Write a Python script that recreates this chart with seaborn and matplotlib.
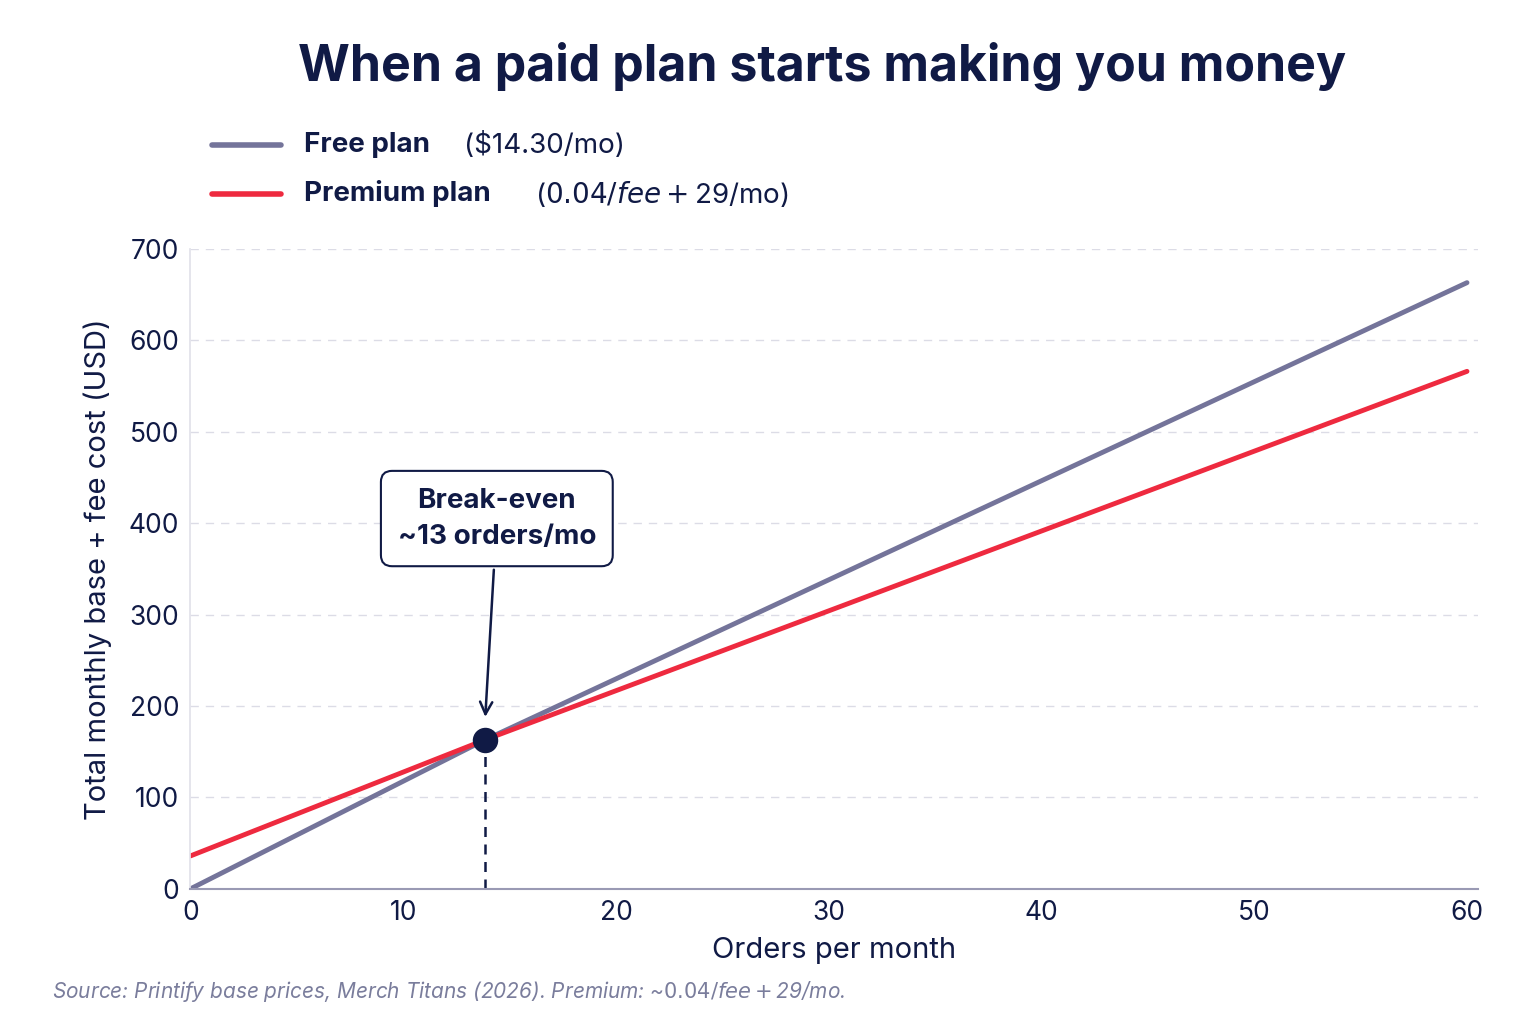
import matplotlib
matplotlib.use('Agg')
import matplotlib.pyplot as plt
from matplotlib.lines import Line2D
import seaborn as sns
import pandas as pd

orders = [0, 13.85, 60]
free_cost = [0, 163, 663]
premium_cost = [36, 163, 566]
breakeven_x = 13.85
breakeven_y = 163
yticks = [0, 100, 200, 300, 400, 500, 600, 700]
xticks = [0, 10, 20, 30, 40, 50, 60]

navy = '#101a45'
gray_line = '#74749a'
red_line = '#ee2a3f'

sns.set_theme(style='white')
plt.rcParams['font.family'] = ['Inter', 'DejaVu Sans']

df = pd.DataFrame({'orders': orders * 2,
                   'cost': free_cost + premium_cost,
                   'plan': ['Free'] * 3 + ['Premium'] * 3})

fig = plt.figure(figsize=(15.36, 10.24), dpi=100)
ax = fig.add_axes([0.124, 0.132, 0.838, 0.625])
sns.lineplot(data=df, x='orders', y='cost', hue='plan',
             palette={'Free': gray_line, 'Premium': red_line},
             linewidth=3.5, legend=False, ax=ax)

ax.set_xlim(0, 60.5)
ax.set_ylim(0, 700)
ax.set_xticks(xticks)
ax.set_yticks(yticks)
ax.tick_params(labelsize=19, colors=navy, length=0, pad=8)
ax.yaxis.grid(True, linestyle=(0, (6, 5)), color='#dcdce6', linewidth=1)
for s in ['top', 'right']:
    ax.spines[s].set_visible(False)
ax.spines['left'].set_color('#e2e2ea')
ax.spines['bottom'].set_color('#9a9ab4')
ax.spines['bottom'].set_linewidth(1.5)
ax.set_xlabel('Orders per month', fontsize=21, color=navy, labelpad=8)
ax.set_ylabel('Total monthly base + fee cost (USD)', fontsize=21, color=navy, labelpad=12)

ax.plot([breakeven_x, breakeven_x], [0, breakeven_y], linestyle=(0, (4, 3)),
        color=navy, linewidth=1.8, zorder=2)
ax.scatter([breakeven_x], [breakeven_y], s=300, color=navy, zorder=5)
ax.annotate('Break-even\n~13 orders/mo', xy=(breakeven_x, breakeven_y + 22),
            xytext=(14.4, 405), ha='center', va='center', fontsize=20,
            fontweight='bold', color=navy, linespacing=1.5,
            bbox=dict(boxstyle='round,pad=0.6,rounding_size=0.4', fc='white',
                      ec=navy, lw=1.5),
            arrowprops=dict(arrowstyle='->', color=navy, lw=1.8,
                            mutation_scale=22))

fig.text(0.535, 0.935, 'When a paid plan starts making you money', ha='center',
         va='center', fontsize=36, fontweight='bold', color=navy)

for y, col, bold, rest, dx in [(0.858, gray_line, 'Free plan', '($14.30/mo)', 0.104),
                               (0.811, red_line, 'Premium plan', '($0.04/fee + $29/mo)', 0.150)]:
    fig.add_artist(Line2D([0.138, 0.183], [y, y], color=col, lw=4,
                          transform=fig.transFigure))
    fig.text(0.198, y, bold, fontsize=20, fontweight='bold', color=navy, va='center')
    fig.text(0.198 + dx, y, rest, fontsize=20, color=navy, va='center')

fig.text(0.034, 0.032, 'Source: Printify base prices, Merch Titans (2026). Premium: ~$0.04/fee + $29/mo.',
         fontsize=15, style='italic', color='#7a7d9c', va='center')

fig.savefig('out.png', dpi=100, facecolor='white')
